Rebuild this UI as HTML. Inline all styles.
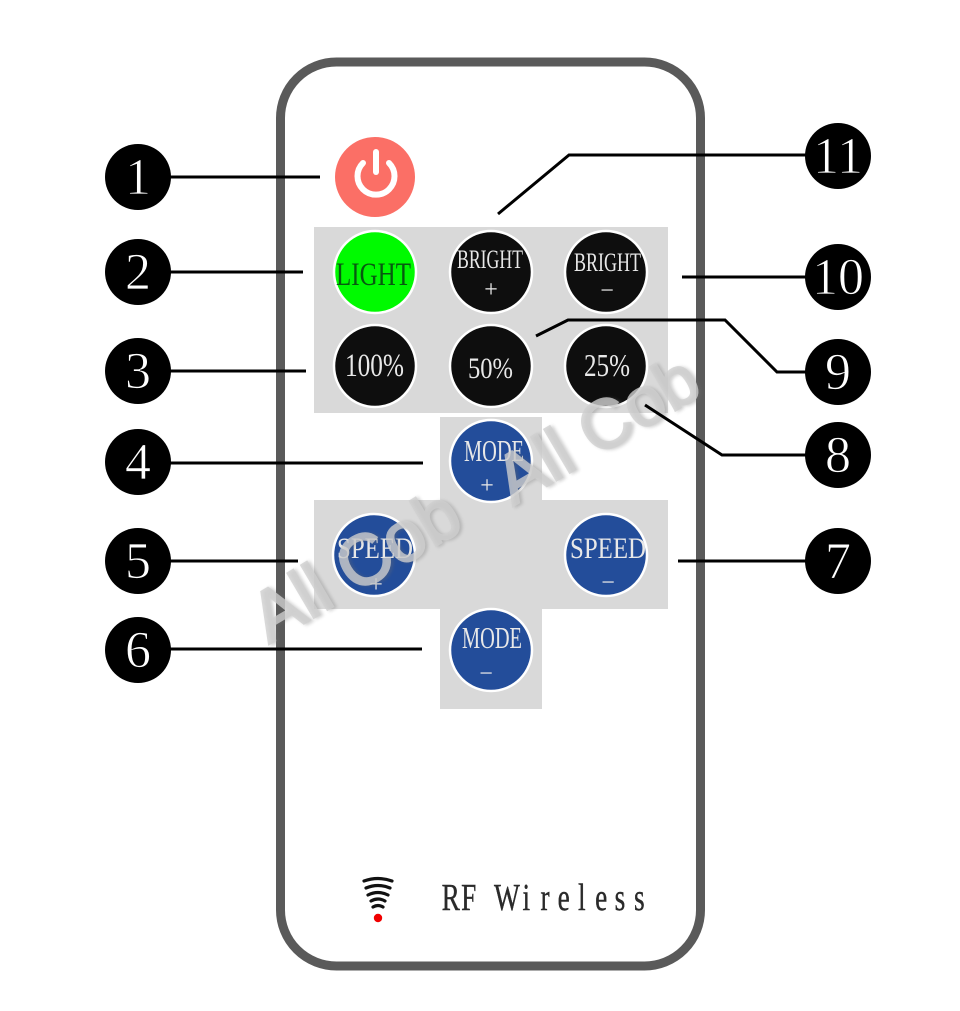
<!DOCTYPE html>
<html lang="en">
<head>
<meta charset="utf-8">
<title>RF Wireless Remote Diagram</title>
<style>
html,body{margin:0;padding:0;background:#fff;width:960px;height:1011px;overflow:hidden}
svg{display:block}
.n{font-family:"Liberation Serif",serif;font-size:52px;fill:#fff;text-anchor:middle;stroke:#000;stroke-width:.8px}
.b{font-family:"Liberation Serif",serif;fill:#e8e8e8}
.w{font-family:"Liberation Sans",sans-serif}
</style>
</head>
<body>
<svg xmlns="http://www.w3.org/2000/svg" width="960" height="1011" viewBox="0 0 960 1011">
<defs><filter id="blur" x="-10%" y="-30%" width="120%" height="160%"><feGaussianBlur stdDeviation="1.5"/></filter></defs>
<rect width="960" height="1011" fill="#fff"/>

<!-- remote body -->
<rect x="280.5" y="62" width="420" height="904" rx="56" ry="56" fill="#fff" stroke="#5a5a5a" stroke-width="9"/>

<!-- gray panels -->
<g fill="#d9d9d9">
<rect x="314" y="227" width="354" height="186"/>
<rect x="440" y="417" width="102" height="84"/>
<rect x="314" y="500" width="354" height="109"/>
<rect x="440" y="609" width="102" height="100"/>
</g>

<!-- power -->
<circle cx="375" cy="177" r="40" fill="#fb6f66"/>
<path d="M363 163A18.5 18.5 0 1 0 389 163" fill="none" stroke="#fff" stroke-width="6" stroke-linecap="round"/>
<path d="M376 152V172" fill="none" stroke="#fff" stroke-width="6" stroke-linecap="round"/>

<!-- buttons -->
<g stroke="#fff" stroke-width="2.5">
<circle cx="375" cy="272" r="41" fill="#00fa00"/>
<circle cx="491" cy="272" r="41" fill="#0e0e0e"/>
<circle cx="606" cy="272" r="41" fill="#0e0e0e"/>
<circle cx="375" cy="366" r="41" fill="#0e0e0e"/>
<circle cx="491" cy="366" r="41" fill="#0e0e0e"/>
<circle cx="606" cy="366" r="41" fill="#0e0e0e"/>
<circle cx="491" cy="461" r="41" fill="#234d9a"/>
<circle cx="374" cy="555" r="41" fill="#234d9a"/>
<circle cx="606" cy="555" r="41" fill="#234d9a"/>
<circle cx="491" cy="650" r="41" fill="#234d9a"/>
</g>

<!-- button labels -->
<g class="b">
<text x="336" y="285" font-size="33" style="fill:#075a10" textLength="75" lengthAdjust="spacingAndGlyphs">LIGHT</text>
<text x="457" y="268" font-size="26" textLength="66" lengthAdjust="spacingAndGlyphs">BRIGHT</text>
<text x="574" y="271" font-size="26" textLength="67" lengthAdjust="spacingAndGlyphs">BRIGHT</text>
<text x="345" y="376" font-size="33" textLength="59" lengthAdjust="spacingAndGlyphs">100%</text>
<text x="468" y="378" font-size="30" textLength="45" lengthAdjust="spacingAndGlyphs">50%</text>
<text x="584" y="376" font-size="32" textLength="46" lengthAdjust="spacingAndGlyphs">25%</text>
<text x="464" y="461" font-size="31" textLength="60" lengthAdjust="spacingAndGlyphs">MODE</text>
<text x="337" y="558" font-size="30" textLength="76" lengthAdjust="spacingAndGlyphs">SPEED</text>
<text x="570" y="558" font-size="30" textLength="76" lengthAdjust="spacingAndGlyphs">SPEED</text>
<text x="462" y="648" font-size="31" textLength="60" lengthAdjust="spacingAndGlyphs">MODE</text>
</g>
<!-- plus and minus labels -->
<g class="b" font-size="24" text-anchor="middle">
<text x="491" y="297">+</text>
<text x="607" y="298">−</text>
<text x="487" y="493">+</text>
<text x="376" y="592">+</text>
<text x="608" y="590">−</text>
<text x="486" y="681">−</text>
</g>

<!-- watermark -->
<g class="w" stroke-width="2.4">
<g transform="translate(269 644) rotate(-30.5)" font-size="71">
<text x="2" y="2" fill="#6e6e6e" stroke="#6e6e6e" opacity="0.32" filter="url(#blur)">All Cob</text>
<text x="0" y="0" fill="#d0d0d0" stroke="#d0d0d0" opacity="0.78">All Cob</text>
</g>
<g transform="translate(513 506) rotate(-30.5)" font-size="69">
<text x="2" y="2" fill="#6e6e6e" stroke="#6e6e6e" opacity="0.32" filter="url(#blur)">All Cob</text>
<text x="0" y="0" fill="#d0d0d0" stroke="#d0d0d0" opacity="0.78">All Cob</text>
</g>
</g>

<!-- connectors -->
<g fill="none" stroke="#000" stroke-width="3">
<path d="M170 177H320"/>
<path d="M170 272H303"/>
<path d="M170 371H306"/>
<path d="M170 463H423"/>
<path d="M170 561H298"/>
<path d="M170 649H422"/>
<path d="M678 561H806"/>
<path d="M645 405L722 455H806"/>
<path d="M536 336L568 320H725L777 372H806"/>
<path d="M682 277H806"/>
<path d="M498 214L569 155H806"/>
</g>

<!-- number badges -->
<g fill="#000">
<circle cx="138" cy="177" r="33"/>
<circle cx="138" cy="272" r="33"/>
<circle cx="138" cy="371" r="33"/>
<circle cx="138" cy="462" r="33"/>
<circle cx="138" cy="561" r="33"/>
<circle cx="138" cy="650" r="33"/>
<circle cx="838" cy="156" r="33"/>
<circle cx="838" cy="277" r="33"/>
<circle cx="838" cy="372" r="33"/>
<circle cx="838" cy="455" r="33"/>
<circle cx="838" cy="561" r="33"/>
</g>
<g class="n">
<text x="138" y="194">1</text>
<text x="138" y="289">2</text>
<text x="138" y="388">3</text>
<text x="138" y="479">4</text>
<text x="138" y="578">5</text>
<text x="138" y="667">6</text>
<text x="838" y="173">11</text>
<text x="838" y="294">10</text>
<text x="838" y="389">9</text>
<text x="838" y="472">8</text>
<text x="838" y="578">7</text>
</g>

<!-- RF footer -->
<g fill="none" stroke="#111" stroke-width="3.2" stroke-linecap="round">
<path d="M364 881Q378 876 392 881"/>
<path d="M366 888Q378 883 390 888"/>
<path d="M368 895Q378 890 388 895"/>
<path d="M371 901Q378 897 385 901"/>
<path d="M373 907Q378 904 383 907"/>
</g>
<circle cx="378" cy="918" r="4.2" fill="#f00000"/>
<text transform="scale(.72 1)" x="626 651 678 704 731 757 783 808 835 861 888" y="910" text-anchor="middle" font-family="Liberation Serif, serif" font-size="38" fill="#2a2a2a" stroke="#2a2a2a" stroke-width=".4">RF Wireless</text>
</svg>
</body>
</html>
